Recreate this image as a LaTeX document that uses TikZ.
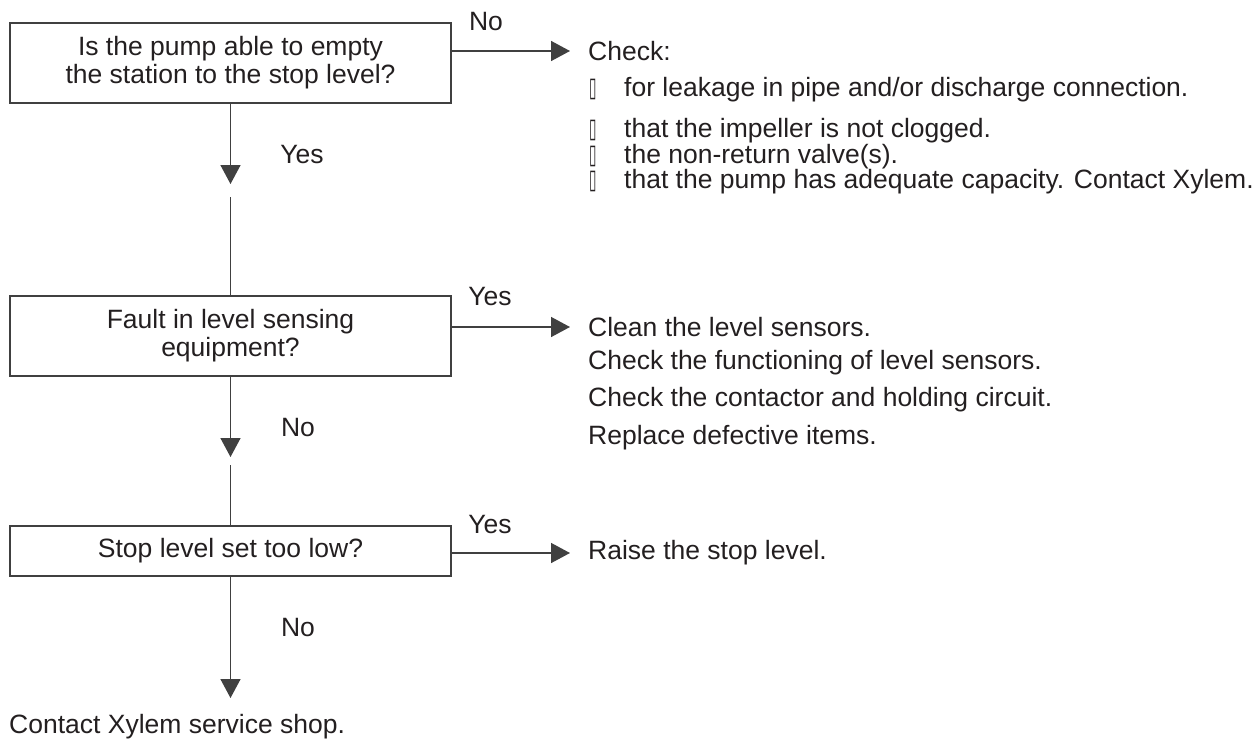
\documentclass[tikz,border=0pt]{standalone}
\usepackage{fontspec}
\usepackage{graphicx}
\setmainfont{Liberation Sans}
\newfontfamily\symfont{DejaVu Sans}
\usetikzlibrary{arrows.meta}
\definecolor{txt}{HTML}{231F20}
\definecolor{ln}{HTML}{404040}
\newcommand{\bul}{{\symfont\fontsize{27}{27}\selectfont\scalebox{0.5}[1]{▯}}}
\tikzset{
  qbox/.style={draw=ln, line width=1.5pt, minimum width=441pt, inner sep=0pt, align=center, text=txt},
  lbl/.style={inner sep=0pt, text=txt, anchor=center},
  rtxt/.style={inner sep=0pt, text=txt, anchor=west},
  conn/.style={draw=ln, line width=1.5pt},
  arr/.style={conn, -{Triangle[length=19pt,width=20pt]}},
}
\begin{document}
\begin{tikzpicture}[x=1pt,y=-1pt, font=\fontsize{26.5}{28}\selectfont]
\useasboundingbox (0,0) rectangle (1259,742);
% boxes
\node[qbox, minimum height=80pt] (b1) at (230.5,63) {Is the pump able to empty\\the station to the stop level?};
\node[qbox, minimum height=80pt] (b2) at (230.5,336) {Fault in level sensing\\equipment?};
\node[qbox, minimum height=50pt] (b3) at (230.5,551) {Stop level set too low?};
% right texts
\node[rtxt] (chk) at (588,51) {Check:};
\node[rtxt] (c1) at (589,90) {\makebox[35pt][l]{\bul}for leakage in pipe and/or discharge connection.};
\node[rtxt] (c2) at (589,131) {\makebox[35pt][l]{\bul}that the impeller is not clogged.};
\node[rtxt] (c3) at (589,157) {\makebox[35pt][l]{\bul}the non-return valve(s).};
\node[rtxt] (c4) at (589,182) {\makebox[35pt][l]{\bul}that the pump has adequate capacity. Contact Xylem.};
\node[rtxt] (cl) at (588,327) {Clean the level sensors.};
\node[rtxt] (f1) at (588,363) {Check the functioning of level sensors.};
\node[rtxt] (f2) at (588,400) {Check the contactor and holding circuit.};
\node[rtxt] (f3) at (588,438) {Replace defective items.};
\node[rtxt] (rs) at (588,553) {Raise the stop level.};
\node[rtxt] (cx) at (9,727) {Contact Xylem service shop.};
% labels
\node[lbl] (l1) at (486,22) {No};
\node[lbl] (l2) at (490,297) {Yes};
\node[lbl] (l3) at (490,525) {Yes};
\node[lbl] (l4) at (302,155) {Yes};
\node[lbl] (l5) at (298,428) {No};
\node[lbl] (l6) at (298,628) {No};
% coordinates
\coordinate (t1) at (230.5,184);
\coordinate (s1) at (230.5,197);
\coordinate (t2) at (230.5,457);
\coordinate (s2) at (230.5,465);
\coordinate (t3) at (230.5,698);
% right arrows
\draw[arr] (b1.east |- chk.west) -- ([xshift=-18pt]chk.west);
\draw[arr] (b2.east |- cl.west) -- ([xshift=-18pt]cl.west);
\draw[arr] (b3.east |- rs.west) -- ([xshift=-18pt]rs.west);
% down arrows
\draw[arr] (b1.south) -- (t1);
\draw[conn] (s1) -- (b2.north);
\draw[arr] (b2.south) -- (t2);
\draw[conn] (s2) -- (b3.north);
\draw[arr] (b3.south) -- (t3);
\end{tikzpicture}
\end{document}
